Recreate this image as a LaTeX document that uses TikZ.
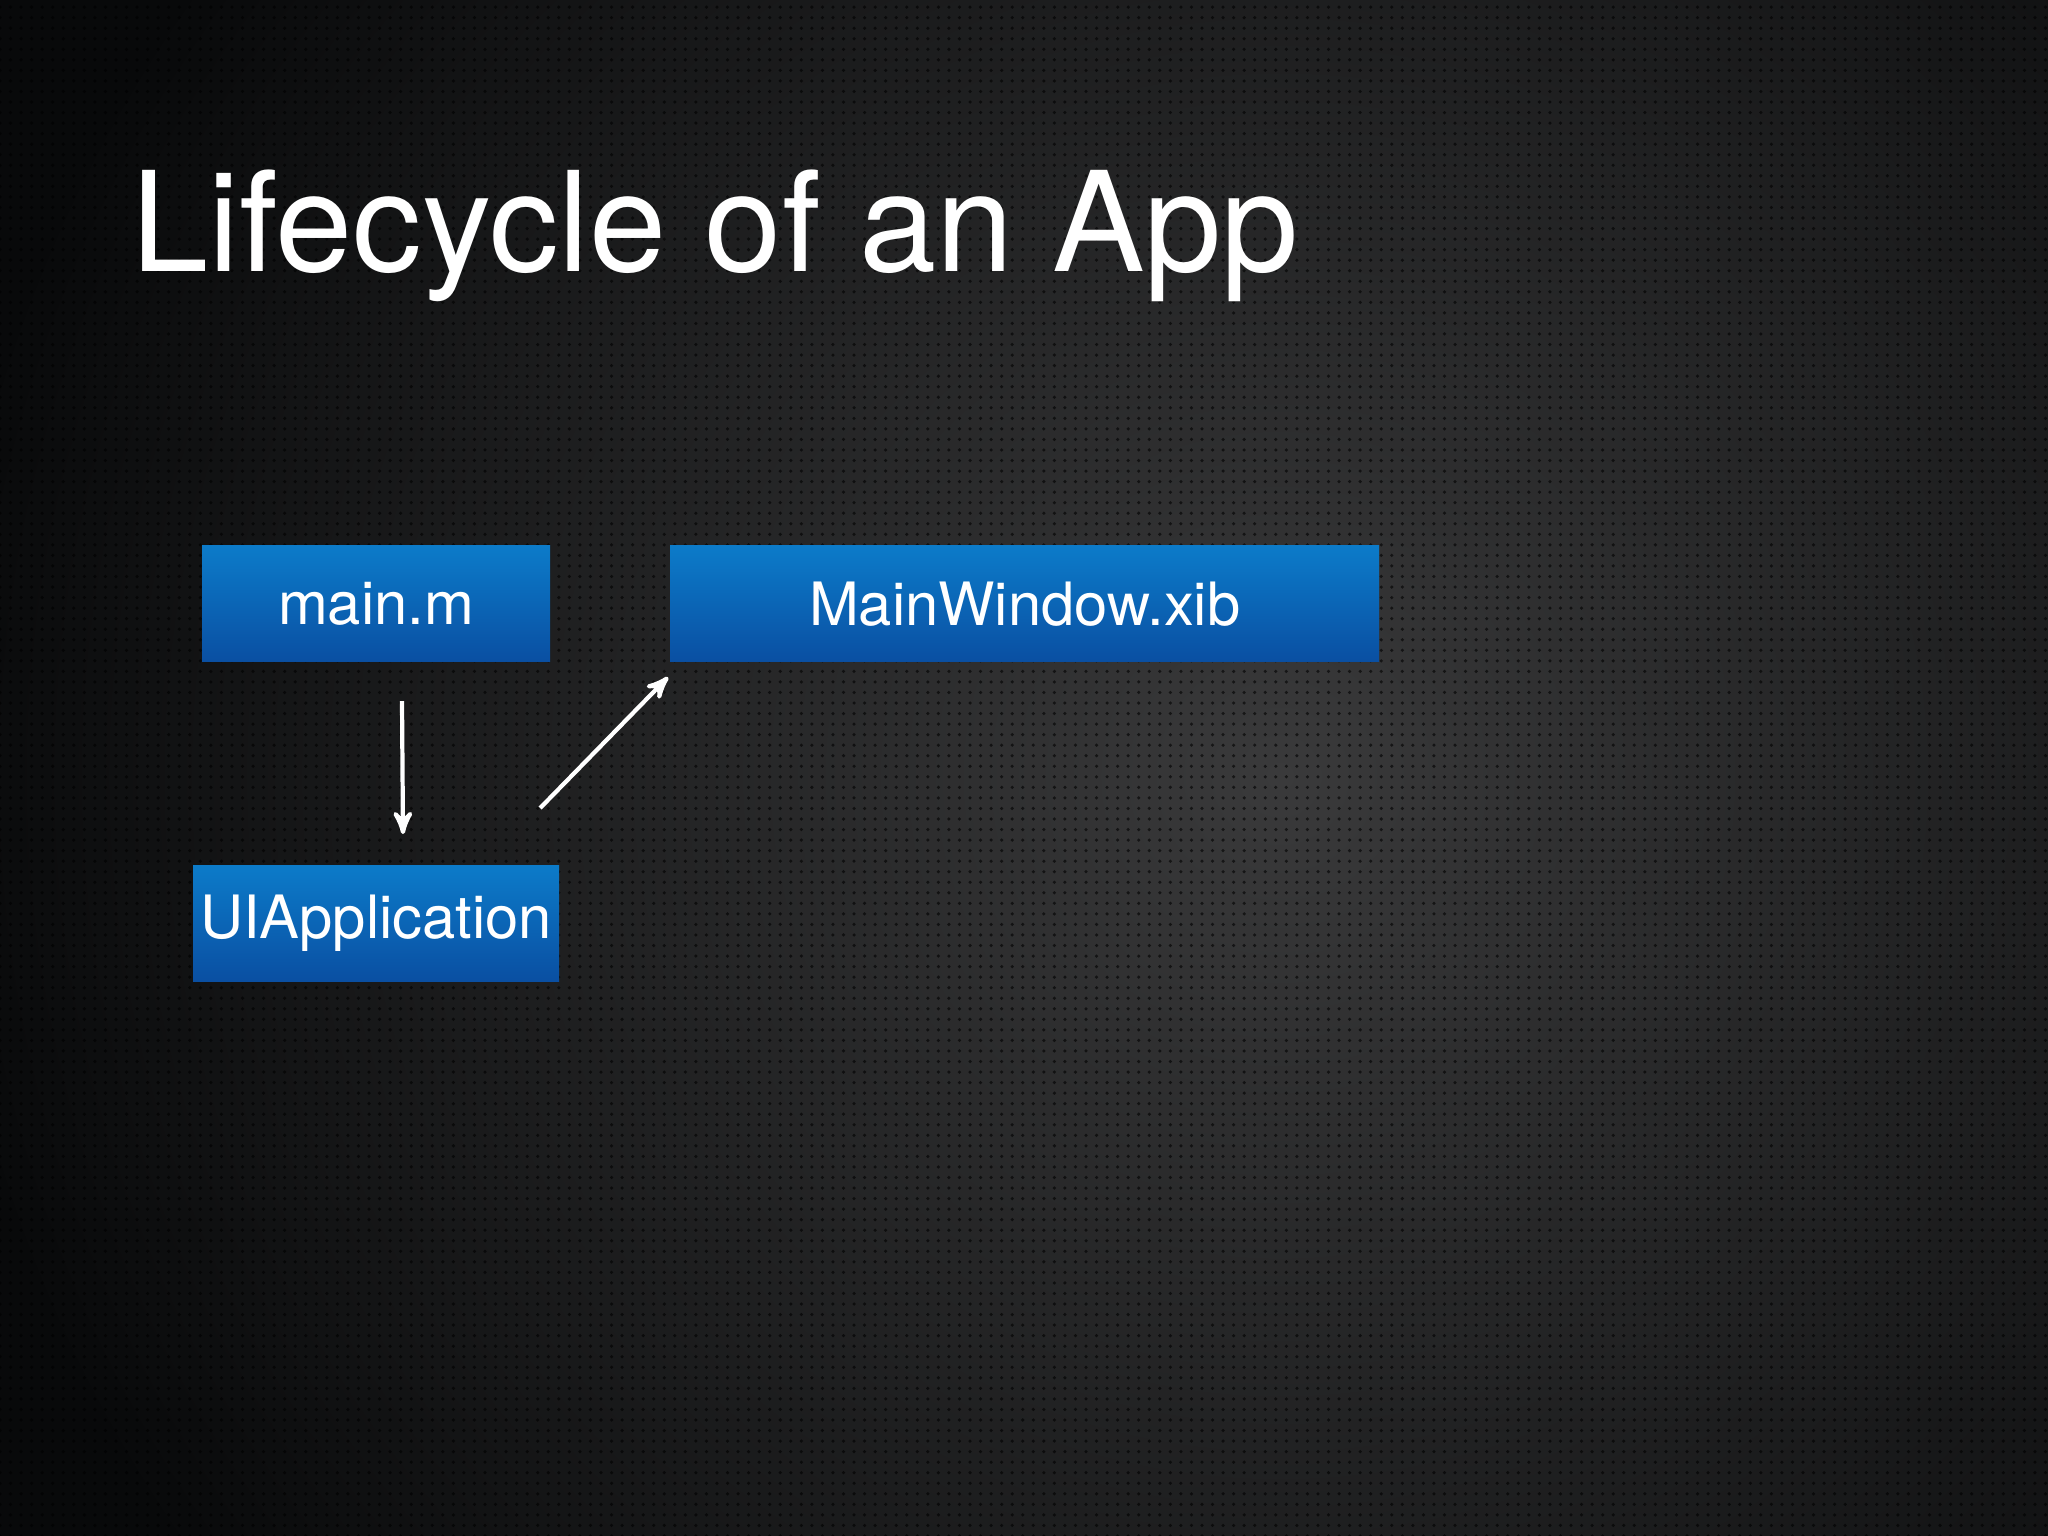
\documentclass[tikz,border=0pt]{standalone}
\usepackage{fontspec}
\setmainfont{TeX Gyre Heros}
\usepackage{xcolor}
\usepackage{tikz}
\usetikzlibrary{arrows}
\usetikzlibrary{positioning}
\usetikzlibrary{patterns}
\definecolor{bgin}{HTML}{3A3A3B}
\definecolor{bgout}{HTML}{08090A}
\definecolor{boxtop}{HTML}{0C7BC9}
\definecolor{boxbot}{HTML}{0A4FA2}
\tikzset{
	main node/.style={rectangle,top color=boxtop,bottom color=boxbot,text=white,
		minimum height=1.16cm,inner sep=0pt,font=\fontsize{17}{21}\selectfont},
	title/.style={text=white,anchor=base west,inner sep=0pt,font=\fontsize{39.5}{47}\selectfont}
}

\begin{document}
\begin{tikzpicture}[->,>=stealth',white,line width=1.2pt]
	% background
	\fill[bgout] (0,0) rectangle (20.48,15.36);
	\begin{scope}
		\clip (0,0) rectangle (20.48,15.36);
		\shade[inner color=bgin,outer color=bgout,draw=none] (12.8,7.6) circle (13.5cm);
		\fill[pattern=dots,pattern color=black,opacity=0.6] (0,0) rectangle (20.48,15.36);
	\end{scope}
	\useasboundingbox (0,0) rectangle (20.48,15.36);
	\node [title] (0) at (1.29,12.64) {Lifecycle of an App};
	\node [main node,minimum width=3.48cm] (1) at (3.76,9.32) {main.m};
	\node [main node,minimum width=7.09cm,right=1.16cm of 1] (2) {MainWindow.xib};
	\node [main node,minimum width=3.66cm,below=1.99cm of 1] (3) {UIApplication};
	\draw ([xshift=0.26cm,yshift=-0.37cm]1.south) -- ([xshift=0.27cm,yshift=0.29cm]3.north);
	\draw ([xshift=-0.21cm,yshift=0.55cm]3.north east) -- ([yshift=-0.13cm]2.south west);
\end{tikzpicture}
\end{document}
